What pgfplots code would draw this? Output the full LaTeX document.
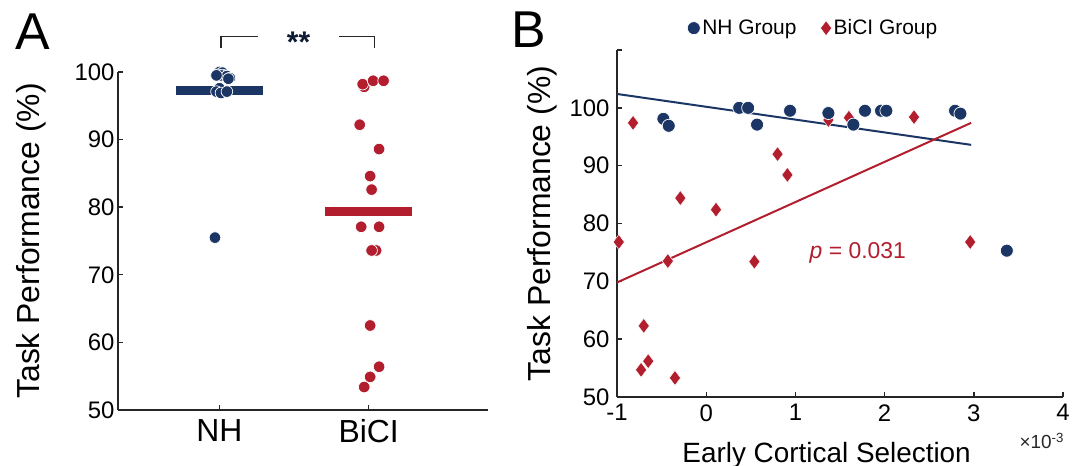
\documentclass[border=0pt]{standalone}
\usepackage{fontspec}
\setmainfont{Liberation Sans}
\usepackage{pgfplots}
\pgfplotsset{compat=1.18}
\definecolor{nhblue}{RGB}{27,54,101}
\definecolor{cired}{RGB}{178,30,45}
\definecolor{axgray}{RGB}{38,38,38}
\newcommand{\fs}[1]{\fontsize{#1}{#1}\selectfont}

\pgfplotsset{
  panel/.style={scale only axis, anchor=south west,
    axis x line*=bottom, axis y line*=left,
    axis line style={axgray, line width=1.4bp, -},
    every tick/.style={axgray, line width=1.4bp},
    tick align=inside, major tick length=5bp, clip=false,
    /pgf/number format/assume math mode=true,
    yticklabel style={font=\fs{24}},
    xticklabel style={font=\fs{24}}},
  nhdot/.style={only marks, mark=*, mark size=5.8bp,
    mark options={fill=nhblue, draw=white, line width=0.7bp}},
  cidot/.style={only marks, mark=*, mark size=5.8bp,
    mark options={fill=cired, draw=white, line width=0.7bp}},
}

\begin{document}
\begin{tikzpicture}
\useasboundingbox (0,0) rectangle (1079bp,466bp);

% panel A
\begin{axis}[panel, at={(118bp,56bp)}, width=370bp, height=338bp,
  xmin=0.32, xmax=2.8, ymin=50, ymax=100,
  xtick={1,2}, xticklabels={NH,BiCI},
  xticklabel style={font=\fs{32}, yshift=-6bp},
  ytick={50,60,...,100},
  every axis y label/.style={at={(axis description cs:-0.235,0.5)}, rotate=90, anchor=center, font=\fs{32}},
  ylabel={Task Performance (\%)}]
  \addplot[nhblue, line width=9bp, forget plot] coordinates {(0.71,97.2) (1.29,97.2)};
  \addplot[cired, line width=9bp, forget plot] coordinates {(1.71,79.3) (2.29,79.3)};
  \addplot[nhdot] coordinates {
    (1.00,100.0) (1.02,99.9) (0.99,99.6) (1.03,99.5) (1.01,99.5) (1.05,99.4) (0.98,99.5)
    (1.07,99.1) (1.06,99.0) (1.00,97.6) (0.98,97.1) (1.01,96.9) (1.05,97.1) (0.97,75.5)};
  \addplot[cidot] coordinates {
    (1.97,97.8) (1.96,98.2) (2.03,98.7) (2.10,98.7) (1.94,92.2) (2.07,88.6) (2.01,84.6)
    (2.02,82.6) (1.95,77.1) (2.07,77.1) (2.05,73.6) (2.02,73.6) (2.01,62.5) (2.07,56.4)
    (2.01,54.9) (1.97,53.4)};
  \draw[axgray, line width=1.3bp] (axis cs:1.01,103.5) -- (axis cs:1.01,105.2) -- (axis cs:1.26,105.2);
  \draw[axgray, line width=1.3bp] (axis cs:1.80,105.2) -- (axis cs:2.04,105.2) -- (axis cs:2.04,103.5);
  \node[anchor=base, font=\bfseries\fs{30}, text=nhblue!50!black] at (axis cs:1.53,102.9) {**};
\end{axis}

% panel B
\begin{axis}[panel, at={(617bp,69bp)}, width=446bp, height=347bp,
  xmin=-1, xmax=4, ymin=50, ymax=110,
  xtick={-1,0,...,4}, ytick={50,60,...,110},
  yticklabels={50,60,70,80,90,100,},
  xticklabel style={yshift=-4bp},
  yticklabel style={xshift=-4bp},
  every axis y label/.style={at={(axis description cs:-0.168,0.5)}, rotate=90, anchor=center, font=\fs{32}},
  ylabel={Task Performance (\%)},
  every axis x label/.style={at={(axis description cs:0.47,-0.167)}, anchor=center, font=\fs{28}},
  xlabel={Early Cortical Selection},
  legend style={at={(0.44,1.063)}, anchor=center, draw=none, fill=none,
    legend columns=2, font=\fs{21},
    /tikz/every even column/.append style={column sep=22bp}},
  legend image code/.code={\draw[mark repeat=2, mark phase=2, #1] plot coordinates {(0bp,0bp) (6bp,0bp) (12bp,0bp)};}]
  \addplot[nhdot, mark size=6.5bp] coordinates {
    (-0.48,98.1) (-0.42,96.9) (0.37,100) (0.47,100) (0.57,97.1) (0.94,99.5) (1.37,99.1)
    (1.78,99.5) (1.96,99.5) (2.02,99.5) (2.79,99.5) (2.85,99.0) (3.37,75.3)};
  \addlegendentry{NH Group}
  \addplot[only marks, mark=diamond*, mark size=7.5bp, mark options={fill=cired, draw=white, line width=0.5bp}] coordinates {
    (-0.98,76.8) (-0.82,97.4) (-0.29,84.4) (0.11,82.4) (-0.43,73.5) (0.54,73.4) (0.80,92.0)
    (0.91,88.4) (-0.70,62.3) (-0.65,56.2) (-0.73,54.7) (-0.35,53.3) (1.60,98.3) (2.33,98.4)
    (2.96,76.8) (1.37,97.9)};
  \addlegendentry{BiCI Group}
  \addplot[nhdot, mark size=6.5bp, forget plot] coordinates {(1.65,97.1) (1.37,99.1)};
  \addplot[nhblue, line width=2bp, forget plot] coordinates {(-1,102.4) (2.97,93.6)};
  \addplot[cired, line width=2bp, forget plot] coordinates {(-1,69.8) (2.97,97.4)};
  \node[text=cired, font=\fs{23}] at (axis cs:1.70,74.9) {\textit{p} = 0.031};
  \node[anchor=north east, font=\fs{19}, text=axgray] at (axis description cs:1.01,-0.095) {×10\textsuperscript{-3}};
\end{axis}

\node[anchor=base west, font=\fs{52}] at (12bp,416bp) {A};
\node[anchor=base west, font=\fs{52}] at (508bp,418bp) {B};
\end{tikzpicture}
\end{document}
